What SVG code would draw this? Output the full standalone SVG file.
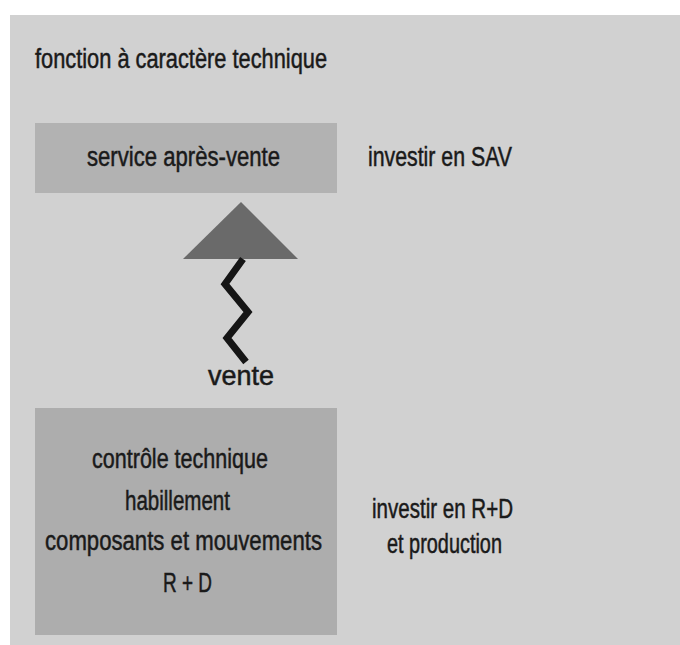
<svg xmlns="http://www.w3.org/2000/svg" width="680" height="645" viewBox="0 0 680 645">
<style>
text{font-family:"Liberation Sans",Arial,sans-serif;font-size:27px;fill:#1a1a1a;stroke:#1a1a1a;stroke-width:0.5px}
.box{stroke:none}
</style>
<rect width="680" height="645" fill="#ffffff"/>
<rect x="10" y="15" width="670" height="630" fill="#d1d1d1"/>
<text x="35" y="68" textLength="292" lengthAdjust="spacingAndGlyphs">fonction à caractère technique</text>
<g id="sav">
<rect class="box" x="35" y="123" width="302" height="70" fill="#b2b2b2"/>
<text x="87" y="166" textLength="193" lengthAdjust="spacingAndGlyphs">service après-vente</text>
</g>
<g id="investir-sav"><text x="368" y="166" textLength="144" lengthAdjust="spacingAndGlyphs">investir en SAV</text></g>
<g id="connectors">
<polygon points="241,202 183,259 298,259" fill="#6a6a6a"/>
<path d="M243,259 L225,284 L248,312 L227,338 L246,362" fill="none" stroke="#151515" stroke-width="7" stroke-linejoin="miter"/>
</g>
<g id="vente"><text x="208" y="385">vente</text></g>
<g id="technique">
<rect class="box" x="35" y="408" width="302" height="227" fill="#adadad"/>
<text x="92" y="468" textLength="176" lengthAdjust="spacingAndGlyphs">contrôle technique</text>
<text x="125" y="510" textLength="105" lengthAdjust="spacingAndGlyphs">habillement</text>
<text x="45" y="550" textLength="277" lengthAdjust="spacingAndGlyphs">composants et mouvements</text>
<text x="163" y="592" textLength="49" lengthAdjust="spacingAndGlyphs">R + D</text>
</g>
<g id="investir-rd">
<text x="372" y="518" textLength="141" lengthAdjust="spacingAndGlyphs">investir en R+D</text>
<text x="387" y="553" textLength="115" lengthAdjust="spacingAndGlyphs">et production</text>
</g>
</svg>
